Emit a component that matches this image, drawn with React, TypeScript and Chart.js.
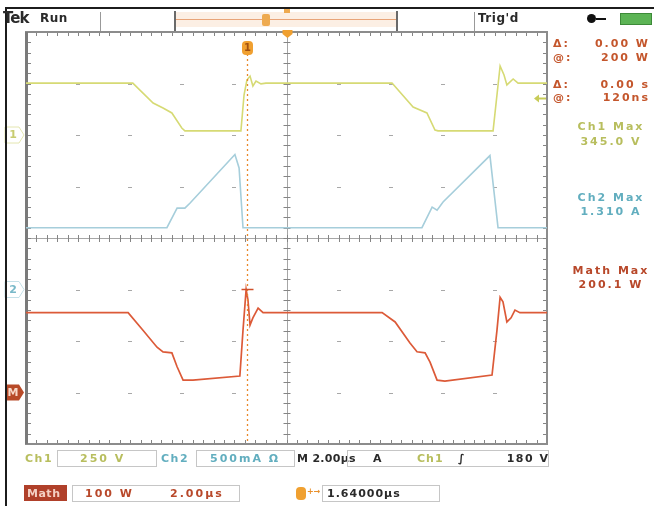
import React, { useEffect, useRef } from "react";
import { Chart, registerables } from "chart.js";

Chart.register(...registerables);

// ---- Data (time in µs relative to trigger, screen spans -10..10 µs) ----
const timeMin = -10;
const timeMax = 10;

const ch1Time = [-10, -5.9, -5.12, -4.74, -4.4, -4.02, -3.9, -1.75, -1.63, -1.52, -1.4, -1.29, -1.17, -0.98, -0.79, 4.05, 4.86, 5.39, 5.7, 5.82, 7.93, 8.2, 8.35, 8.46, 8.7, 8.89, 10];
const ch1Volts = [252, 252, 155, 131, 107, 34, 20, 20, 194, 267, 286, 238, 262, 248, 252, 252, 136, 107, 24, 20, 20, 335, 291, 243, 272, 252, 252];

const ch2Time = [-10, -4.59, -4.2, -3.9, -3.7, -1.98, -1.82, -1.67, 5.2, 5.59, 5.78, 6.01, 7.81, 8.12, 10];
const ch2Amps = [0.6, 0.6, 0.79, 0.79, 0.84, 1.31, 1.18, 0.6, 0.6, 0.8, 0.77, 0.85, 1.3, 0.6, 0.6];

const mathTime = [-10, -6.08, -5.51, -4.97, -4.74, -4.4, -4.2, -3.97, -3.59, -1.79, -1.67, -1.55, -1.48, -1.4, -1.29, -1.09, -0.9, 3.67, 4.17, 4.74, 5.01, 5.32, 5.51, 5.78, 6.08, 7.89, 8.08, 8.2, 8.31, 8.46, 8.62, 8.77, 8.96, 10];
const mathWatts = [155, 155, 121, 88, 79, 77, 50, 24, 24, 32, 121, 200, 180, 131, 145, 164, 155, 155, 137, 96, 79, 77, 59, 24, 22, 34, 121, 185, 176, 137, 145, 160, 155, 155];

// Vertical settings: 250 V/div, 500 mA/div, 100 W/div, 8 divisions
const ch1Range = [-1500, 500];
const ch2Range = [-1.5, 2.5];
const mathRange = [-100, 700];

const cursorTime = -1.52;
const cursorWatts = 200;
const triggerLevelVolts = 180;

const W = 654;
const H = 506;

const scopePlugin = {
  id: "scopeGrid",
  beforeDatasetsDraw(chart: any) {
    const { ctx, chartArea: a } = chart;
    const dx = (a.right - a.left) / 10;
    const dy = (a.bottom - a.top) / 8;
    const cx = a.left + dx * 5;
    const cy = a.top + dy * 4;
    ctx.save();
    // intersection dots
    ctx.fillStyle = "#a8a8a8";
    for (let i = 1; i < 10; i++) {
      for (let j = 1; j < 8; j++) {
        if (i === 5 || j === 4) continue;
        const x = a.left + i * dx;
        const y = a.top + j * dy;
        ctx.fillRect(Math.round(x) - 2, Math.round(y), 4, 1);
      }
    }
    // centre cross
    ctx.strokeStyle = "#a6a6a6";
    ctx.lineWidth = 1;
    ctx.beginPath();
    ctx.moveTo(a.left, Math.round(cy) + 0.5);
    ctx.lineTo(a.right, Math.round(cy) + 0.5);
    ctx.moveTo(Math.round(cx) + 0.5, a.top);
    ctx.lineTo(Math.round(cx) + 0.5, a.bottom);
    ctx.stroke();
    ctx.strokeStyle = "#858585";
    ctx.beginPath();
    for (let k = 0; k <= 50; k++) {
      const x = Math.round(a.left + (k * dx) / 5) + 0.5;
      ctx.moveTo(x, cy - 3);
      ctx.lineTo(x, cy + 4);
      ctx.moveTo(x, a.top);
      ctx.lineTo(x, a.top + 4);
      ctx.moveTo(x, a.bottom);
      ctx.lineTo(x, a.bottom - 4);
    }
    for (let k = 0; k <= 40; k++) {
      const y = Math.round(a.top + (k * dy) / 5) + 0.5;
      ctx.moveTo(cx - 3, y);
      ctx.lineTo(cx + 4, y);
      ctx.moveTo(a.left, y);
      ctx.lineTo(a.left + 5, y);
      ctx.moveTo(a.right, y);
      ctx.lineTo(a.right - 4, y);
    }
    ctx.stroke();
    // border
    ctx.strokeStyle = "#8c8c8c";
    ctx.lineWidth = 2;
    ctx.strokeRect(a.left, a.top, a.right - a.left, a.bottom - a.top);
    ctx.fillStyle = "#7a7a7a";
    ctx.fillRect(a.left - 1, a.top, 3, a.bottom - a.top);
    ctx.restore();
  },
  afterDatasetsDraw(chart: any) {
    const { ctx, chartArea: a, scales } = chart;
    const x = Math.round(scales.x.getPixelForValue(cursorTime)) + 0.5;
    ctx.save();
    // cursor line
    ctx.strokeStyle = "#e8882a";
    ctx.lineWidth = 1.3;
    ctx.setLineDash([2, 3]);
    ctx.beginPath();
    ctx.moveTo(x, a.top + 22);
    ctx.lineTo(x, a.bottom);
    ctx.stroke();
    ctx.setLineDash([]);
    // cursor readout tick on math trace
    const yW = scales.ymath.getPixelForValue(cursorWatts);
    ctx.strokeStyle = "#d0502a";
    ctx.lineWidth = 1.5;
    ctx.beginPath();
    ctx.moveTo(x - 6, yW);
    ctx.lineTo(x + 6, yW);
    ctx.stroke();
    // cursor marker
    ctx.fillStyle = "#f0a030";
    ctx.beginPath();
    ctx.roundRect(x - 5.5, a.top + 9, 11, 14, 4);
    ctx.fill();
    ctx.fillStyle = "#a05010";
    ctx.font = "bold 10px 'DejaVu Sans'";
    ctx.textAlign = "center";
    ctx.textBaseline = "middle";
    ctx.fillText("1", x, a.top + 16.5);
    // trigger position marker
    const tx = Math.round(scales.x.getPixelForValue(0)) + 0.5;
    ctx.fillStyle = "#f0a030";
    ctx.beginPath();
    ctx.moveTo(tx - 5, a.top - 2);
    ctx.lineTo(tx + 5, a.top - 2);
    ctx.lineTo(tx + 5, a.top + 2);
    ctx.lineTo(tx, a.top + 6);
    ctx.lineTo(tx - 5, a.top + 2);
    ctx.closePath();
    ctx.fill();
    // trigger level arrow (Ch1)
    const ty = Math.round(scales.ych1.getPixelForValue(triggerLevelVolts)) + 0.5;
    ctx.strokeStyle = "#c8cc58";
    ctx.fillStyle = "#c8cc58";
    ctx.lineWidth = 2;
    ctx.beginPath();
    ctx.moveTo(a.right - 1, ty);
    ctx.lineTo(a.right - 9, ty);
    ctx.stroke();
    ctx.beginPath();
    ctx.moveTo(a.right - 13, ty);
    ctx.lineTo(a.right - 8, ty - 4);
    ctx.lineTo(a.right - 8, ty + 4);
    ctx.closePath();
    ctx.fill();
    // channel ground markers
    const tab = (y: number, fill: string | null, stroke: string, label: string, textColor: string) => {
      const l = a.left - 21;
      ctx.beginPath();
      ctx.moveTo(l, y - 8);
      ctx.lineTo(a.left - 7, y - 8);
      ctx.lineTo(a.left - 2, y);
      ctx.lineTo(a.left - 7, y + 8);
      ctx.lineTo(l, y + 8);
      ctx.closePath();
      if (fill) {
        ctx.fillStyle = fill;
        ctx.fill();
      } else {
        ctx.strokeStyle = stroke;
        ctx.lineWidth = 1;
        ctx.stroke();
      }
      ctx.fillStyle = textColor;
      ctx.font = "bold 11px 'DejaVu Sans'";
      ctx.textAlign = "center";
      ctx.textBaseline = "middle";
      ctx.fillText(label, l + 8, y + 0.5);
    };
    tab(scales.ych1.getPixelForValue(0), null, "#e4e6b0", "1", "#c8cc70");
    tab(scales.ych2.getPixelForValue(0), null, "#c4e0e8", "2", "#78b8c8");
    tab(scales.ymath.getPixelForValue(0), "#b84a28", "#b84a28", "M", "#f8d8c8");
    ctx.restore();
  },
};

const mk = (t: number[], v: number[]) => t.map((x, i) => ({ x, y: v[i] }));

type TProps = {
  x?: number;
  r?: number;
  y: number;
  c?: string;
  s?: number;
  w?: number;
  ls?: number;
  children: React.ReactNode;
  center?: number;
};
const T = ({ x, r, y, c = "#333", s = 11, w = 700, ls = 2, children, center }: TProps) => {
  const style: React.CSSProperties = {
    position: "absolute",
    top: y - s / 2 - 1,
    color: c,
    fontSize: s,
    fontWeight: w,
    letterSpacing: ls,
    fontFamily: "'DejaVu Sans', sans-serif",
    lineHeight: `${s + 2}px`,
    whiteSpace: "nowrap",
  };
  if (center !== undefined) {
    style.left = center - 60;
    style.width = 120;
    style.textAlign = "center";
  } else if (r !== undefined) {
    style.right = W - r - ls;
  } else {
    style.left = x;
  }
  return <div style={style}>{children}</div>;
};

const Box = ({ x, y, w, h, bg = "transparent", border = "1px solid #c6c6c6" }: any) => (
  <div style={{ position: "absolute", left: x, top: y, width: w, height: h, background: bg, border, boxSizing: "border-box" }} />
);

export default function App() {
  const ref = useRef<HTMLCanvasElement>(null);
  useEffect(() => {
    if (!ref.current) return;
    const chart = new Chart(ref.current, {
      type: "line",
      data: {
        datasets: [
          { label: "Ch1", data: mk(ch1Time, ch1Volts), yAxisID: "ych1", borderColor: "#d6da74", borderWidth: 1.6 },
          { label: "Ch2", data: mk(ch2Time, ch2Amps), yAxisID: "ych2", borderColor: "#a6cedb", borderWidth: 1.6 },
          { label: "Math", data: mk(mathTime, mathWatts), yAxisID: "ymath", borderColor: "#dc5a38", borderWidth: 1.7 },
        ],
      },
      options: {
        responsive: false,
        animation: false,
        layout: { padding: { left: 26, right: 107, top: 32, bottom: 62 } },
        elements: { point: { radius: 0 }, line: { tension: 0 } },
        plugins: { legend: { display: false }, tooltip: { enabled: false } },
        scales: {
          x: { type: "linear", min: timeMin, max: timeMax, display: false },
          ych1: { type: "linear", min: ch1Range[0], max: ch1Range[1], display: false },
          ych2: { type: "linear", min: ch2Range[0], max: ch2Range[1], display: false },
          ymath: { type: "linear", min: mathRange[0], max: mathRange[1], display: false },
        },
      },
      plugins: [scopePlugin],
    });
    return () => chart.destroy();
  }, []);

  const orange = "#c4562c";
  const yel = "#b8be5e";
  const teal = "#62aebf";
  const red = "#b8482a";

  return (
    <div style={{ position: "absolute", left: 0, top: 0, width: W, height: H, background: "#fff", overflow: "hidden" }}>
      <canvas ref={ref} width={W} height={H} style={{ position: "absolute", left: 0, top: 0, width: W, height: H }} />
      {/* frame */}
      <div style={{ position: "absolute", left: 5, top: 7, width: W - 5, height: 2, background: "#1c1c1c" }} />
      <div style={{ position: "absolute", left: 5, top: 7, width: 2, height: H - 7, background: "#1c1c1c" }} />
      {/* top bar */}
      <T x={3} y={18} s={15} ls={-1} c="#2a2a2a">Tek</T>
      <T x={40} y={18} s={12} ls={0.5} c="#2a2a2a">Run</T>
      <div style={{ position: "absolute", left: 100, top: 12, width: 1, height: 19, background: "#999" }} />
      <div style={{ position: "absolute", left: 175, top: 12, width: 222, height: 15, background: "#fcefe4" }} />
      <div style={{ position: "absolute", left: 175, top: 19, width: 222, height: 1, background: "#e8a478" }} />
      <div style={{ position: "absolute", left: 174, top: 11, width: 2, height: 20, background: "#6a6a6a" }} />
      <div style={{ position: "absolute", left: 396, top: 11, width: 2, height: 20, background: "#6a6a6a" }} />
      <div style={{ position: "absolute", left: 262, top: 14, width: 8, height: 12, background: "#eeaa50", borderRadius: 2 }} />
      <div style={{ position: "absolute", left: 284, top: 9, width: 6, height: 4, background: "#eeaa50" }} />
      <div style={{ position: "absolute", left: 474, top: 12, width: 1, height: 19, background: "#999" }} />
      <T x={478} y={18} s={12} ls={0.5} c="#2a2a2a">Trig'd</T>
      <div style={{ position: "absolute", left: 587, top: 14, width: 9, height: 9, borderRadius: 5, background: "#111" }} />
      <div style={{ position: "absolute", left: 596, top: 18, width: 10, height: 2, background: "#111" }} />
      <div style={{ position: "absolute", left: 620, top: 13, width: 32, height: 12, background: "#5cb455", border: "1px solid #3d8a38", boxSizing: "border-box" }} />

      {/* right readouts */}
      <T x={553} y={43} c={orange}>Δ:</T>
      <T r={648} y={43} c={orange}>0.00 W</T>
      <T x={553} y={57} c={orange}>@:</T>
      <T r={648} y={57} c={orange}>200 W</T>
      <T x={553} y={84} c={orange}>Δ:</T>
      <T r={648} y={84} c={orange}>0.00 s</T>
      <T x={553} y={97} c={orange}>@:</T>
      <T r={648} y={97} c={orange}>120ns</T>
      <T center={611} y={126} c={yel}>Ch1 Max</T>
      <T center={611} y={141} c={yel}>345.0 V</T>
      <T center={611} y={197} c={teal}>Ch2 Max</T>
      <T center={611} y={211} c={teal}>1.310 A</T>
      <T center={611} y={270} c={red}>Math Max</T>
      <T center={611} y={284} c={red}>200.1 W</T>

      {/* bottom row 1 */}
      <T x={25} y={458} c={yel} ls={1.5}>Ch1</T>
      <Box x={57} y={450} w={100} h={17} />
      <T x={80} y={458} c={yel}>250 V</T>
      <T x={161} y={458} c={teal} ls={1.5}>Ch2</T>
      <Box x={196} y={450} w={99} h={17} />
      <T x={210} y={458} c={teal}>500mA Ω</T>
      <T x={297} y={458} c="#2a2a2a" ls={0.3}>M 2.00µs</T>
      <Box x={347} y={450} w={202} h={17} />
      <T x={373} y={458} c="#2a2a2a">A</T>
      <T x={417} y={458} c={yel} ls={1}>Ch1</T>
      <T x={458} y={458} c="#2a2a2a">∫</T>
      <T r={548} y={458} c="#2a2a2a" ls={1.5}>180 V</T>

      {/* bottom row 2 */}
      <div style={{ position: "absolute", left: 24, top: 485, width: 43, height: 16, background: "#b0402a" }} />
      <T x={27} y={493} c="#f4d0c4" ls={0.5}>Math</T>
      <Box x={72} y={485} w={168} h={17} />
      <T x={85} y={493} c={red}>100 W</T>
      <T x={170} y={493} c={red}>2.00µs</T>
      <div style={{ position: "absolute", left: 296, top: 487, width: 10, height: 13, background: "#f0a030", borderRadius: 4 }} />
      <T x={307} y={492} s={8} ls={0} c="#e8902c">+→</T>
      <Box x={322} y={485} w={118} h={17} />
      <T x={327} y={493} c="#2a2a2a" ls={1}>1.64000µs</T>
    </div>
  );
}
